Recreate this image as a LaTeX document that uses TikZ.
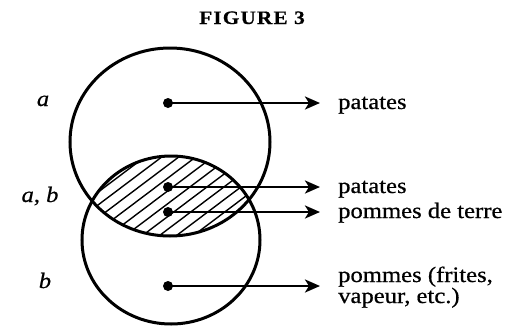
\documentclass[tikz,border=0pt]{standalone}
\usepackage{fontspec}
\setmainfont{Liberation Serif}[FakeStretch=1.12,FakeBold=0.6]
\usetikzlibrary{arrows.meta}
\begin{document}
\begin{tikzpicture}[x=1pt,y=-1pt,
  ring/.style={line width=3pt},
  hatchline/.style={line width=1.4pt},
  dot/.style={circle,fill,inner sep=0pt,minimum size=10pt},
  arr/.style={line width=2.6pt,-{Stealth[length=15pt,width=13pt,inset=4pt]},shorten >=18pt},
  lbl/.style={anchor=base west,inner sep=0pt,font=\fontsize{22}{26}\selectfont},
  side/.style={anchor=base,inner sep=0pt,font=\fontsize{22}{26}\selectfont\itshape}]
\useasboundingbox (0,0) rectangle (507,325);
% hatching of the overlap
\begin{scope}
  \clip (170,142) ellipse [x radius=100pt, y radius=94pt];
  \clip (171,240) ellipse [x radius=89pt, y radius=84pt];
  \foreach \s in {-60,-43,...,260}
    \draw[hatchline] (\s,260) -- ++(150,-113);
\end{scope}
% circles
\draw[ring] (170,142) ellipse [x radius=100pt, y radius=94pt];
\draw[ring] (171,240) ellipse [x radius=89pt, y radius=84pt];
% title
\node[anchor=base,inner sep=0pt,font=\fontsize{19}{21}\selectfont\bfseries\addfontfeatures{LetterSpace=6}] (title) at (252,24) {FIGURE 3};
% side labels
\node[side] (la) at (43,106) {a};
\node[side] (lab) at (40,202) {a, b};
\node[side] (lb) at (45,288) {b};
% right labels
\node[lbl] (t1) at (338,109) {patates};
\node[lbl] (t2) at (338,193) {patates};
\node[lbl] (t3) at (338,218) {pommes de terre};
\node[lbl] (t4) at (338,282) {pommes (frites,};
\node[lbl] (t5) at (338,303) {vapeur, etc.)};
% dots
\node[dot] (d1) at (168,103) {};
\node[dot] (d2) at (168,187) {};
\node[dot] (d3) at (168,212) {};
\node[dot] (d4) at (168,286) {};
% arrows
\draw[arr] (d1.center) -- (d1.center -| t1.west);
\draw[arr] (d2.center) -- (d2.center -| t2.west);
\draw[arr] (d3.center) -- (d3.center -| t3.west);
\draw[arr] (d4.center) -- (d4.center -| t4.west);
\end{tikzpicture}
\end{document}
